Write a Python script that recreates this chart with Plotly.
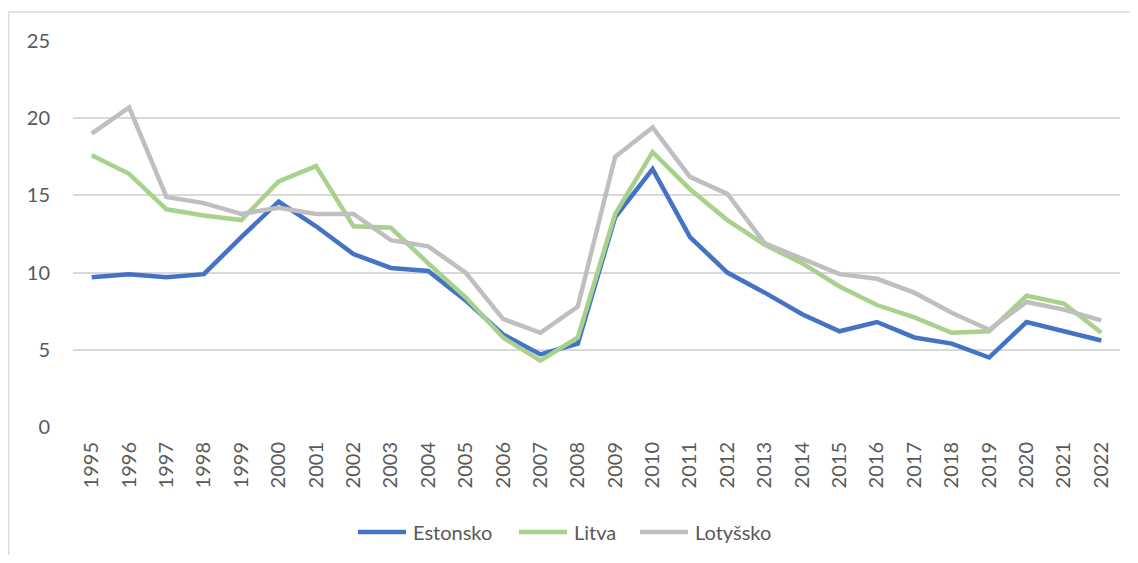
import plotly.graph_objects as go

years = [str(y) for y in range(1995, 2023)]

estonsko = [9.7, 9.9, 9.7, 9.9, 12.3, 14.6, 13.0, 11.2, 10.3, 10.1,
            8.2, 6.0, 4.7, 5.4, 13.6, 16.7, 12.3, 10.0, 8.7, 7.3,
            6.2, 6.8, 5.8, 5.4, 4.5, 6.8, 6.2, 5.6]
litva = [17.6, 16.4, 14.1, 13.7, 13.4, 15.9, 16.9, 13.0, 12.9, 10.6,
         8.4, 5.8, 4.3, 5.8, 13.8, 17.8, 15.4, 13.4, 11.8, 10.6,
         9.1, 7.9, 7.1, 6.1, 6.2, 8.5, 8.0, 6.1]
lotyssko = [19.0, 20.7, 14.9, 14.5, 13.8, 14.2, 13.8, 13.8, 12.1, 11.7,
            10.0, 7.0, 6.1, 7.8, 17.5, 19.4, 16.2, 15.1, 11.9, 10.9,
            9.9, 9.6, 8.7, 7.4, 6.3, 8.1, 7.6, 6.9]

series_names = ["Estonsko", "Litva", "Lotyšsko"]
series_colors = ["#4472C4", "#A9D18E", "#BFBFBF"]

TEXT = "#595959"
GRID = "#D9D9D9"
FONT = "Lato, Open Sans, sans-serif"

# the page body has an 8px margin, so the figure is drawn 8px in from the corner
OFF = 8
W, H = 1138 - 2 * OFF, 563 - 2 * OFF
# plot area wanted on the page: x 73..1120, y 41..427
L, T = 73 - OFF, 41 - OFF
R, B = W - (1120 - OFF), H - (427 - OFF)
pw, ph = W - L - R, H - T - B


def px_x(x):
    """page x pixel -> paper coord"""
    return (x - OFF - L) / pw


def px_y(y):
    """page y pixel -> paper coord"""
    return 1 - (y - OFF - T) / ph


fig = go.Figure()
for name, vals, col in zip(series_names, [estonsko, litva, lotyssko], series_colors):
    fig.add_trace(go.Scatter(
        x=years, y=vals, mode="lines", name=name,
        line={"color": col, "width": 4.5},
        showlegend=False,
    ))

# outer chart frame (cut at right and bottom edge)
fig.add_shape(type="line", xref="paper", yref="paper",
              x0=px_x(8.5), x1=px_x(1145), y0=px_y(12), y1=px_y(12),
              line={"color": GRID, "width": 1.5})
fig.add_shape(type="line", xref="paper", yref="paper",
              x0=px_x(8.5), x1=px_x(8.5), y0=px_y(12), y1=px_y(570),
              line={"color": GRID, "width": 1.5})

# legend drawn by hand so the spacing matches Excel's
legend_y = px_y(532)
legend_starts = [356, 517, 638]
for name, col, x0 in zip(series_names, series_colors, legend_starts):
    fig.add_shape(type="line", xref="paper", yref="paper",
                  x0=px_x(x0 + 2), x1=px_x(x0 + 50), y0=legend_y, y1=legend_y,
                  line={"color": col, "width": 4.5})
    fig.add_annotation(xref="paper", yref="paper", x=px_x(x0 + 55), y=legend_y,
                       xanchor="left", yanchor="middle", showarrow=False,
                       text=name, font={"size": 20, "color": TEXT})

fig.update_layout(
    width=W, height=H,
    margin={"l": L, "r": R, "t": T, "b": B, "autoexpand": False},
    paper_bgcolor="white", plot_bgcolor="white",
    font={"family": FONT, "size": 20, "color": TEXT},
    showlegend=False,
    xaxis={
        "type": "category", "tickangle": -90,
        "showgrid": False, "zeroline": False, "showline": False,
        "range": [-0.5, len(years) - 0.5],
        "tickfont": {"size": 20, "color": TEXT},
        "ticklabelstandoff": 10,
        "automargin": False,
    },
    yaxis={
        "range": [0, 25], "dtick": 5,
        "showgrid": True, "gridcolor": GRID, "gridwidth": 1.5,
        "zeroline": False, "showline": False,
        "tickfont": {"size": 20, "color": TEXT},
        "ticklabelstandoff": 22,
        "automargin": False,
    },
)

fig.write_html("out.html")
